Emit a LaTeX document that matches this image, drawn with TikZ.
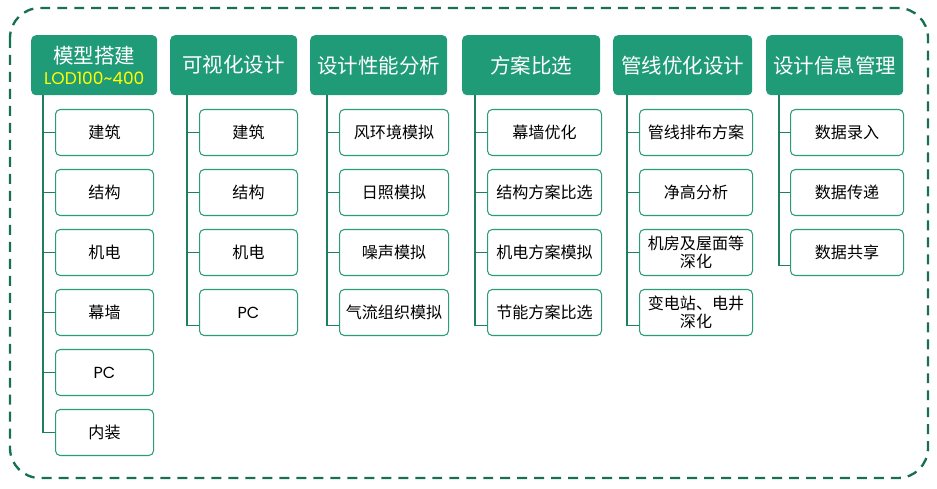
\documentclass[tikz,border=0pt]{standalone}
\usepackage{fontspec}
\setmainfont{Noto Sans CJK SC}
\newfontfamily\latinfont{Poppins}
\usetikzlibrary{positioning}

\definecolor{headgreen}{RGB}{32,155,120}
\definecolor{linegreen}{RGB}{30,128,96}
\definecolor{boxgreen}{RGB}{42,156,122}
\definecolor{dashgreen}{RGB}{22,112,86}
\definecolor{lodyellow}{RGB}{255,255,0}

\def\u{0.3mm}

\tikzset{
    header/.style={fill=headgreen, rounded corners=4pt, text=white, inner sep=0pt,
        minimum height=60*\u, align=center, anchor=north west,
        font=\fontsize{17.5}{18}\selectfont},
    item/.style={draw=boxgreen, line width=0.9pt, rounded corners=4pt, fill=white,
        inner sep=0pt, minimum height=46*\u, align=center, anchor=west,
        font=\fontsize{13.7}{15}\selectfont},
    branch/.style={linegreen, line width=1pt}
}

\begin{document}
\begin{tikzpicture}[x=\u, y=-\u]
        \useasboundingbox (0,0) rectangle (937,488);
        % Outer dashed frame
        \draw[dashgreen, line width=2pt, dash pattern=on 8.5pt off 6pt, rounded corners=9mm]
            (10,8) rectangle (928,478);
        % Column headers
        \node[header, minimum width=126*\u] (h1) at (31,35) {模型搭建\\{\latinfont\fontsize{14.5}{15}\selectfont\color{lodyellow}LOD100\textasciitilde400}};
        \node[header, minimum width=127*\u] (h2) at (170,35) {可视化设计};
        \node[header, minimum width=137*\u] (h3) at (310,35) {设计性能分析};
        \node[header, minimum width=138*\u] (h4) at (462,35) {方案比选};
        \node[header, minimum width=139*\u] (h5) at (613,35) {管线优化设计};
        \node[header, minimum width=137*\u] (h6) at (766,35) {设计信息管理};
        % Items below each header
        \foreach \t [count=\i] in {建筑,结构,机电,幕墙,{\latinfont PC},内装}
            \node[item, minimum width=98*\u] (c1-\i) at (55,72.5+60*\i) {\t};
        \foreach \t [count=\i] in {建筑,结构,机电,{\latinfont PC}}
            \node[item, minimum width=98*\u] (c2-\i) at (199,72.5+60*\i) {\t};
        \foreach \t [count=\i] in {风环境模拟,日照模拟,噪声模拟,气流组织模拟}
            \node[item, minimum width=109*\u] (c3-\i) at (339,72.5+60*\i) {\t};
        \foreach \t [count=\i] in {幕墙优化,结构方案比选,机电方案模拟,节能方案比选}
            \node[item, minimum width=114*\u] (c4-\i) at (487,72.5+60*\i) {\t};
        \foreach \t [count=\i] in {管线排布方案,净高分析,{机房及屋面等\\深化},{变电站、电井\\深化}}
            \node[item, minimum width=113*\u] (c5-\i) at (639,72.5+60*\i) {\t};
        \foreach \t [count=\i] in {数据录入,数据传递,数据共享}
            \node[item, minimum width=113*\u] (c6-\i) at (790,72.5+60*\i) {\t};
        % Tree lines
        \coordinate (t1) at (43,95);
        \coordinate (t2) at (187,95);
        \coordinate (t3) at (327,95);
        \coordinate (t4) at (475,95);
        \coordinate (t5) at (627,95);
        \coordinate (t6) at (779,95);
        \draw[branch] (t1) |- (c1-6.west);
        \foreach \i in {1,...,5}
            \draw[branch] (c1-\i.west) -- (c1-\i.west -| t1);
        \foreach \c/\n [evaluate=\n as \m using int(\n-1)] in {2/4,3/4,4/4,5/4,6/3} {
            \draw[branch] (t\c) |- ([yshift=-13*\u]c\c-\n.west);
            \foreach \i in {1,...,\m}
                \draw[branch] (c\c-\i.west) -- (c\c-\i.west -| t\c);
        }
    \end{tikzpicture}
\end{document}
